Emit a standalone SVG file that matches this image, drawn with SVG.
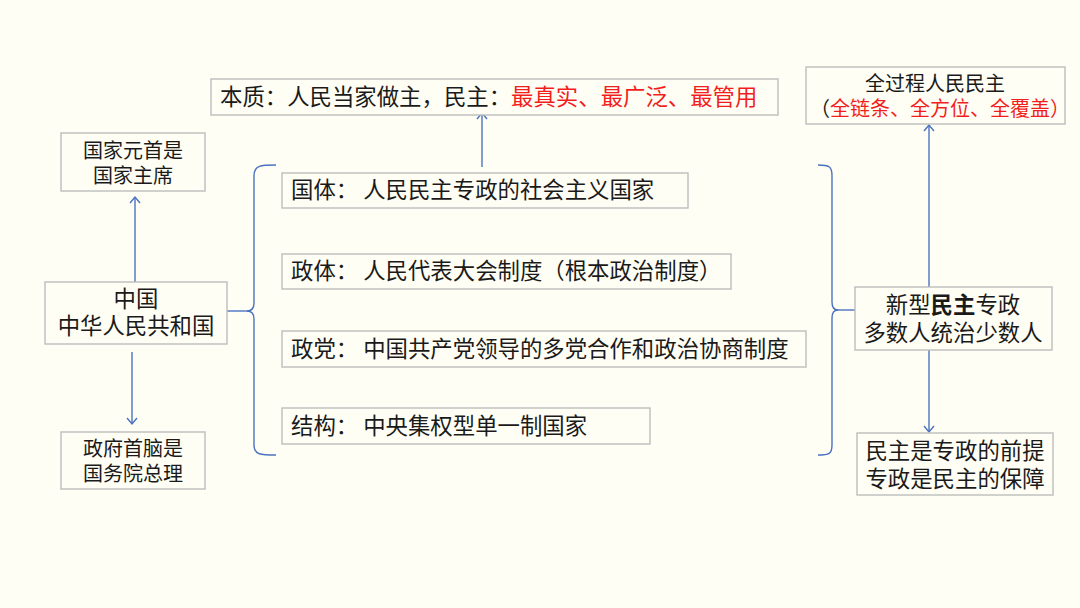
<svg xmlns="http://www.w3.org/2000/svg" width="1080" height="608" viewBox="0 0 1080 608">
<style>
.bg{fill:#FFFEF4}
.box{fill:#FFFEF4;stroke:#BDBDBD;stroke-width:1.4}
.t{font-family:"Noto Sans CJK SC","Noto Sans CJK JP",sans-serif;font-size:22.4px;fill:#1a1a1a}
.s{font-size:20px}
.m{text-anchor:middle}
.r{fill:#F21E1E}
.c{fill:none;stroke:#4A72C0;stroke-width:1.4}
</style>
<defs>
<marker id="ah" viewBox="-8 -6 10 12" markerWidth="10" markerHeight="12" refX="0" refY="0" orient="auto" markerUnits="userSpaceOnUse">
<path d="M-6,-5 L0,0 L-6,5" fill="none" stroke="#4A72C0" stroke-width="1.4"/>
</marker>
</defs>
<rect class="bg" x="0" y="0" width="1080" height="608"/>

<g id="connectors">
<path class="c" d="M482,167 L482,113" marker-end="url(#ah)"/>
<path class="c" d="M135,282 L135,197" marker-end="url(#ah)"/>
<path class="c" d="M132,352 L132,424" marker-end="url(#ah)"/>
<path class="c" d="M929,287 L929,125" marker-end="url(#ah)"/>
<path class="c" d="M929,350 L929,432" marker-end="url(#ah)"/>
<path class="c" d="M276,165 C261,165 254,165 254,176 L254,303 Q254,311 247,311 Q254,311 254,319 L254,445 C254,455 261,455 276,455"/>
<path class="c" d="M227,311 L249,311"/>
<path class="c" d="M818,165 C829,165 832,166 832,176 L832,302 Q832,310 838,310 Q832,310 832,318 L832,445 C832,454 829,455 818,455"/>
<path class="c" d="M836,310 L855,310"/>
</g>

<g id="essence">
<rect class="box" x="211" y="79" width="567" height="36"/>
<text class="t" x="220" y="105">本质：人民当家做主，民主：<tspan class="r">最真实、最广泛、最管用</tspan></text>
</g>

<g id="whole-process">
<rect class="box" x="806" y="67" width="259" height="57"/>
<text class="t s m" x="935" y="91">全过程人民民主</text>
<text class="t s" x="810" y="116">（<tspan class="r">全链条、全方位、全覆盖）</tspan></text>
</g>

<g id="head-of-state">
<rect class="box" x="61" y="133" width="144" height="58"/>
<text class="t s m" x="133" y="158">国家元首是</text>
<text class="t s m" x="133" y="183">国家主席</text>
</g>

<g id="china">
<rect class="box" x="45" y="282" width="182" height="62"/>
<text class="t m" x="136" y="307">中国</text>
<text class="t m" x="136" y="334">中华人民共和国</text>
</g>

<g id="head-of-government">
<rect class="box" x="61" y="432" width="144" height="57"/>
<text class="t s m" x="133" y="456">政府首脑是</text>
<text class="t s m" x="133" y="481">国务院总理</text>
</g>

<g id="guoti">
<rect class="box" x="282" y="173" width="406" height="35"/>
<text class="t" x="291" y="198">国体： 人民民主专政的社会主义国家</text>
</g>

<g id="zhengti">
<rect class="box" x="282" y="254" width="449" height="35"/>
<text class="t" x="291" y="279">政体： 人民代表大会制度（根本政治制度）</text>
</g>

<g id="zhengdang">
<rect class="box" x="282" y="331" width="524" height="36"/>
<text class="t" x="291" y="357">政党： 中国共产党领导的多党合作和政治协商制度</text>
</g>

<g id="jiegou">
<rect class="box" x="282" y="408" width="368" height="36"/>
<text class="t" x="291" y="434">结构： 中央集权型单一制国家</text>
</g>

<g id="new-dictatorship">
<rect class="box" x="855" y="287" width="197" height="63"/>
<text class="t m" x="953" y="313">新型<tspan font-weight="bold">民主</tspan>专政</text>
<text class="t m" x="953" y="341">多数人统治少数人</text>
</g>

<g id="relation">
<rect class="box" x="857" y="433" width="196" height="62"/>
<text class="t m" x="955" y="459">民主是专政的前提</text>
<text class="t m" x="955" y="487">专政是民主的保障</text>
</g>
</svg>
